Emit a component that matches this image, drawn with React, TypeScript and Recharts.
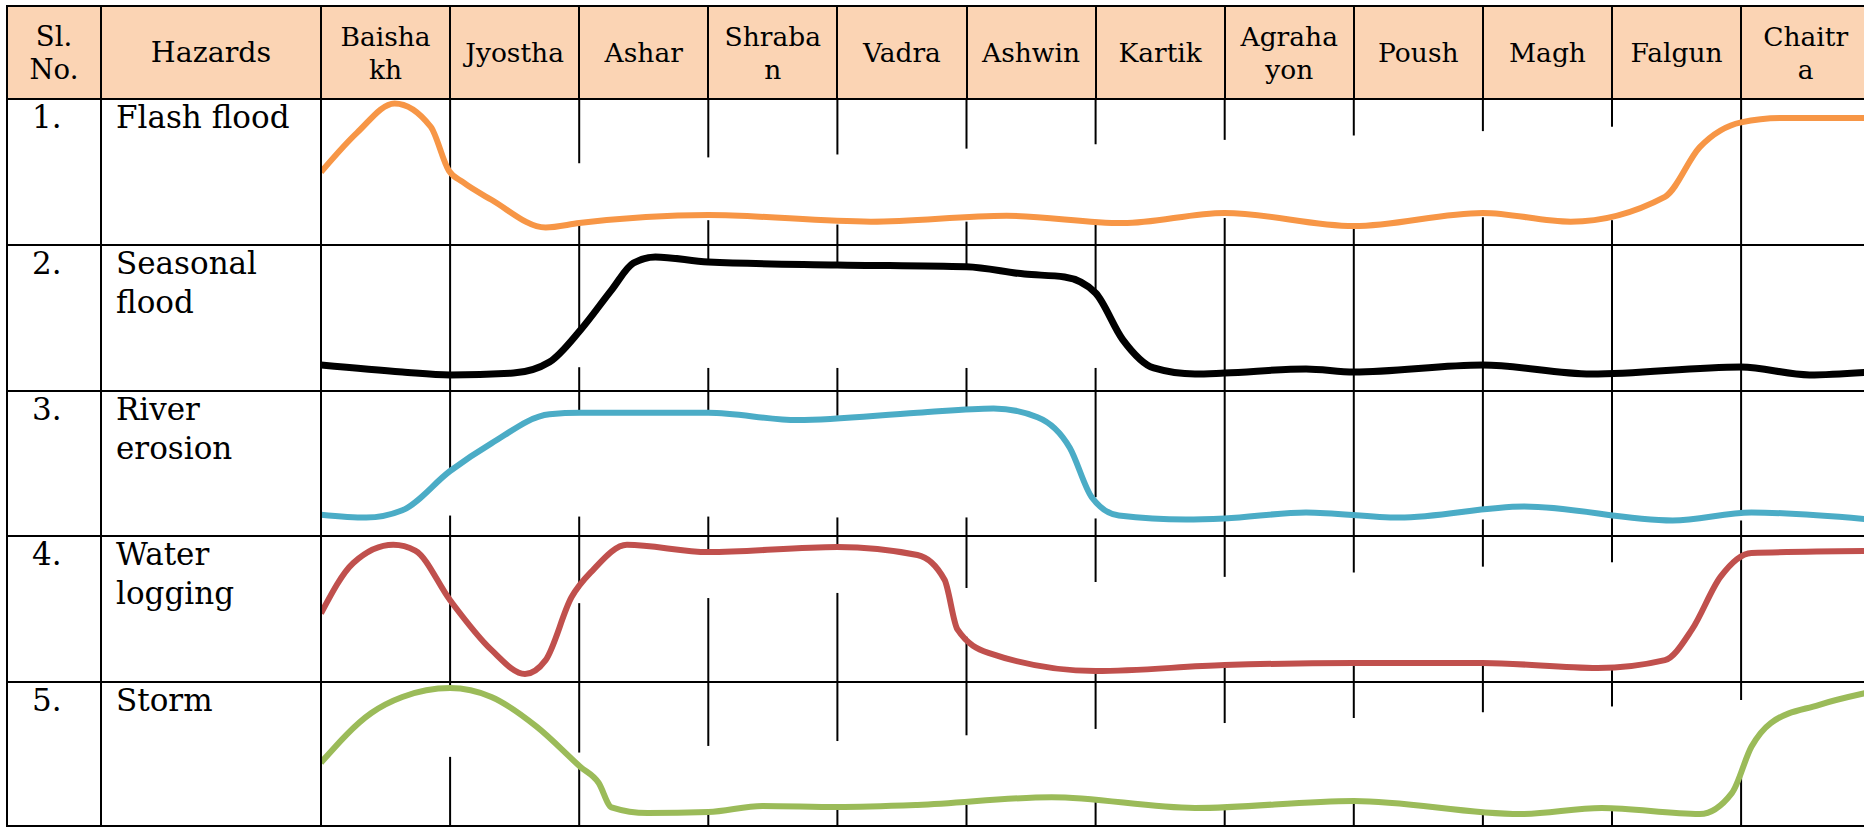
import React from "react";
import { LineChart, Line, XAxis, YAxis, ReferenceLine } from "recharts";

const months = ["Baisha\nkh", "Jyostha", "Ashar", "Shraba\nn", "Vadra", "Ashwin", "Kartik", "Agraha\nyon", "Poush", "Magh", "Falgun", "Chaitr\na"];
const serials = ["1.", "2.", "3.", "4.", "5."];
const hazards = ["Flash flood", "Seasonal\nflood", "River\nerosion", "Water\nlogging", "Storm"];

// [month position 0-12, intensity 0-100]
const flashFlood = [[0, 50], [0.28, 77], [0.57, 97], [0.85, 81], [0.99, 51], [1.1, 43], [1.32, 31], [1.74, 12], [2, 15], [3, 20.5], [4.26, 16], [5.31, 20], [6.21, 15], [7, 22], [8, 13], [9, 22], [9.68, 16], [10.41, 33], [10.68, 67], [11, 84], [11.32, 87], [12, 87]];
const seasonalFlood = [[0, 17.5], [0.63, 12.7], [1, 10.7], [1.49, 12], [1.77, 19.6], [2.01, 41.6], [2.25, 69], [2.42, 87.6], [2.59, 91.8], [3, 88.3], [4, 86.3], [5, 85], [5.45, 80], [5.76, 78], [6, 67], [6.21, 35], [6.45, 15.5], [6.77, 11.3], [7, 12], [7.63, 14.8], [8, 12.7], [9, 17.5], [9.84, 11.3], [11, 16.2], [11.53, 10.7], [12, 12.7]];
const riverErosion = [[0, 15], [0.35, 13], [0.63, 18], [1, 45], [1.32, 64], [1.77, 84], [2.01, 85], [3, 85], [3.69, 80], [4.62, 85], [5.21, 88], [5.55, 82], [5.8, 61], [5.97, 27], [6.18, 14.4], [6.7, 11.7], [7, 12.4], [7.63, 16.5], [8.35, 13], [9.32, 20.6], [10.47, 11], [11.08, 16.5], [12, 11.7]];
const waterLogging = [[0, 47], [0.25, 81.5], [0.56, 94], [0.73, 90], [1, 56], [1.32, 22], [1.58, 5.5], [1.74, 15], [1.94, 58], [2.11, 77], [2.37, 94], [3, 89], [4, 92.5], [4.62, 87], [4.83, 70], [4.93, 36], [5.17, 20], [6, 7.5], [7, 11.6], [8, 13], [9, 13], [9.89, 9.6], [10.41, 15], [10.62, 36], [10.84, 72], [11.08, 88.4], [12, 89.7]];
const storm = [[0, 44], [0.39, 78.5], [0.63, 89.6], [1, 95.8], [1.32, 89.6], [1.67, 69], [2.01, 41], [2.15, 30], [2.25, 13], [2.53, 9], [3, 9.7], [3.42, 13.9], [4, 13.2], [4.62, 14.6], [5.66, 20], [6.77, 12.5], [8, 17.4], [9.29, 8.3], [9.92, 12.5], [10.68, 8.3], [10.93, 23], [11.08, 55], [11.23, 71.5], [11.6, 84], [12, 93]];

const series = [flashFlood, seasonalFlood, riverErosion, waterLogging, storm];
const colors = ["#F79646", "#000000", "#4BACC6", "#C0504D", "#9BBB59"];

// month dividers are broken around the curves: [divider, gap from, gap to]
const dividerGaps = [
    [[2, 16, 56], [3, 17, 60], [4, 14, 62], [5, 16, 66], [6, 14, 69], [7, 18.5, 72], [8, 12, 75], [9, 19, 78], [10, 17, 81]],
    [[2, 16, 41], [3, 15.5, 88], [4, 15.5, 86], [5, 15.5, 85], [6, 15.5, 67]],
    [[1, 14.4, 45], [2, 13.7, 85], [3, 13.7, 85], [4, 13.1, 83], [5, 13.1, 86], [6, 12.4, 27], [9, 11.7, 20], [11, 11, 17]],
    [[2, 54, 64], [3, 57.5, 89], [4, 61, 92.5], [5, 31, 64.4], [6, 7.5, 68.5], [7, 11.6, 72], [8, 13, 75], [9, 13, 79], [10, 11, 82]],
    [[1, 48, 96], [2, 41, 51], [3, 9.7, 55.6], [4, 13.2, 59], [5, 14.6, 63], [6, 18, 67.4], [7, 13.9, 71.5], [8, 17.4, 75], [9, 9.7, 79], [10, 12.5, 83], [11, 39, 87.5]],
];

const LEFT = 7;
const SL_X = 101;
const HZ_X = 321;
const MONTH_W = 129.1;
const ROW_Y = [6, 99, 245, 390.5, 536, 682, 826];
const FONT = "'DejaVu Serif', serif";

function HLine({ y }: { y: number }) {
    return <div style={{ position: "absolute", left: LEFT - 1, top: y - 1, width: 1900, height: 2, background: "#000" }} />;
}

function VLine({ x, y1, y2 }: { x: number; y1: number; y2: number }) {
    return <div style={{ position: "absolute", left: x - 1, top: y1 - 1, width: 2, height: y2 - y1 + 2, background: "#000" }} />;
}

function RowChart({ idx }: { idx: number }) {
    const top = ROW_Y[idx + 1];
    const h = ROW_Y[idx + 2] - top;
    const data = series[idx].map(([m, v]) => ({ m, v }));
    const segs: number[][] = [];
    for (let k = 1; k < 12; k++) {
        const g = dividerGaps[idx].find((d) => d[0] === k);
        if (g) {
            segs.push([k, 0, g[1]]);
            segs.push([k, g[2], 100]);
        } else {
            segs.push([k, 0, 100]);
        }
    }
    return (
        <div style={{ position: "absolute", left: HZ_X, top: top }}>
            <LineChart width={MONTH_W * 12} height={h} data={data} margin={{ top: 0, right: 0, bottom: 0, left: 0 }}>
                <XAxis dataKey="m" type="number" domain={[0, 12]} hide />
                <YAxis type="number" domain={[0, 100]} hide />
                {segs.map((s, i) => (
                    <ReferenceLine key={i} segment={[{ x: s[0], y: s[1] }, { x: s[0], y: s[2] }]} stroke="#000" strokeWidth={2} />
                ))}
                <Line type="monotone" dataKey="v" stroke={colors[idx]} strokeWidth={idx === 1 ? 7 : 6} dot={false} isAnimationActive={false} />
            </LineChart>
        </div>
    );
}

function HeadCell({ x1, x2, text, size }: { x1: number; x2: number; text: string; size: number }) {
    return (
        <div
            style={{
                position: "absolute", left: x1, top: ROW_Y[0], width: x2 - x1, height: ROW_Y[1] - ROW_Y[0],
                display: "flex", alignItems: "center", justifyContent: "center", textAlign: "center",
                whiteSpace: "pre-line", lineHeight: "33px", fontSize: size,
            }}
        >
            {text}
        </div>
    );
}

export default function App() {
    return (
        <div style={{ position: "absolute", left: 0, top: 0, width: 1864, height: 827, overflow: "hidden", background: "#fff", fontFamily: FONT, fontSize: 31, color: "#000" }}>
            <div style={{ position: "absolute", left: LEFT, top: ROW_Y[0], width: 1900, height: ROW_Y[1] - ROW_Y[0], background: "#FBD4B4" }} />
            <HeadCell x1={LEFT} x2={SL_X} text={"Sl.\nNo."} size={27.5} />
            <HeadCell x1={SL_X} x2={HZ_X} text="Hazards" size={28.5} />
            {months.map((m, i) => (
                <HeadCell key={m} x1={HZ_X + i * MONTH_W} x2={HZ_X + (i + 1) * MONTH_W} text={m} size={26.5} />
            ))}
            {serials.map((s, i) => (
                <React.Fragment key={s}>
                    <div style={{ position: "absolute", left: 32, top: ROW_Y[i + 1] - 1, lineHeight: "39px" }}>{s}</div>
                    <div style={{ position: "absolute", left: 116, top: ROW_Y[i + 1] - 1, lineHeight: "39px", whiteSpace: "pre-line" }}>{hazards[i]}</div>
                    <RowChart idx={i} />
                </React.Fragment>
            ))}
            {ROW_Y.map((y) => (
                <HLine key={y} y={y} />
            ))}
            <VLine x={LEFT} y1={ROW_Y[0]} y2={ROW_Y[6]} />
            <VLine x={SL_X} y1={ROW_Y[0]} y2={ROW_Y[6]} />
            <VLine x={HZ_X} y1={ROW_Y[0]} y2={ROW_Y[6]} />
            {months.map((m, i) =>
                i > 0 ? <VLine key={"v" + m} x={HZ_X + i * MONTH_W} y1={ROW_Y[0]} y2={ROW_Y[1]} /> : null
            )}
        </div>
    );
}
